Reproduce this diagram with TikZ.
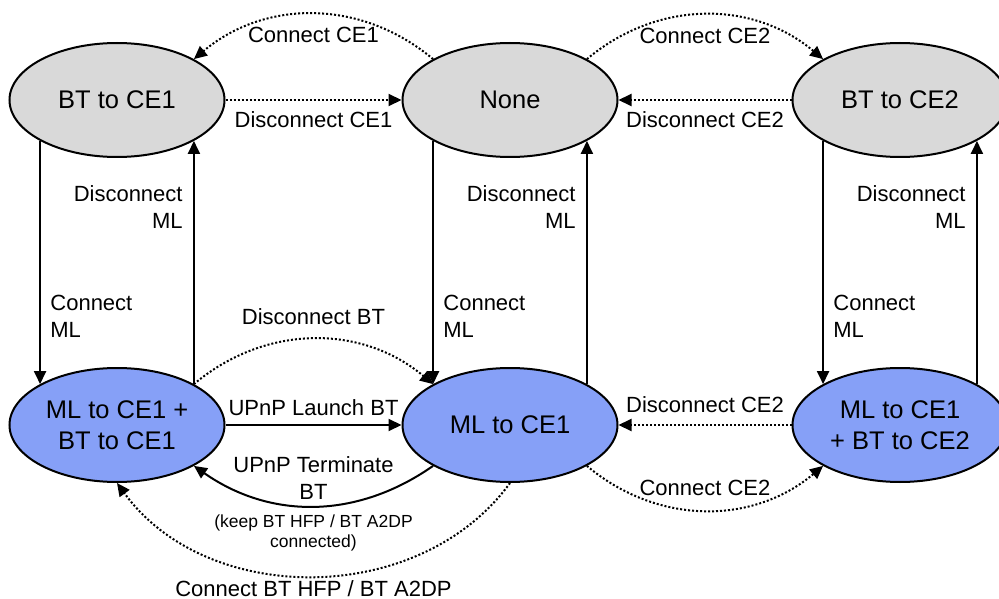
\documentclass[tikz,border=0pt]{standalone}
\usepackage{fontspec}
\setmainfont{Liberation Sans}
\usetikzlibrary{shapes.geometric,arrows.meta}
\definecolor{stategray}{RGB}{217,217,217}
\definecolor{stateblue}{RGB}{134,160,247}

\begin{document}
\begin{tikzpicture}[x=1pt,y=-1pt,
    state/.style={draw,ellipse,line width=2pt,inner sep=0pt,minimum width=215pt,minimum height=114pt,align=center,font=\fontsize{25.5}{31}\selectfont},
    idle/.style={state,fill=stategray},
    mlstate/.style={state,fill=stateblue},
    trans/.style={line width=2pt,-{Triangle[length=13pt,width=12pt]}},
    opt/.style={trans,dash pattern=on 2pt off 2pt},
    lbl/.style={font=\fontsize{22}{27}\selectfont,align=center},
    note/.style={font=\fontsize{17.5}{20}\selectfont,align=center}]
    \useasboundingbox (0,0) rectangle (999,599);
    % states
    \node[idle] (bt1) at (117,100) {BT to CE1};
    \node[idle] (none) at (510,100) {None};
    \node[idle] (bt2) at (900,100) {BT to CE2};
    \node[mlstate] (mlbt1) at (117,425) {ML to CE1 +\\BT to CE1};
    \node[mlstate] (ml1) at (510,425) {ML to CE1};
    \node[mlstate] (mlbt2) at (900,425) {ML to CE1\\+ BT to CE2};
    % ML up and down
    \foreach \up/\down in {bt1/mlbt1,none/ml1,bt2/mlbt2} {
        \draw[trans] (\up.208) -- (\down.152) node[lbl,pos=.72,anchor=west,xshift=6pt,align=left] {Connect\\ML};
        \draw[trans] (\down.28) -- (\up.332) node[lbl,pos=.73,anchor=east,xshift=-7pt,align=right] {Disconnect\\ML};
    }
    % top row
    \draw[opt] (none.152) to[bend right=40] node[lbl,below,yshift=-9pt] {Connect CE1} (bt1.28);
    \draw[opt] (bt1.east) -- node[lbl,below,yshift=-7pt] {Disconnect CE1} (none.west);
    \draw[opt] (none.28) to[bend left=40] node[lbl,below,yshift=-9pt] {Connect CE2} (bt2.152);
    \draw[opt] (bt2.west) -- node[lbl,below,yshift=-7pt] {Disconnect CE2} (none.east);
    % bottom row
    \draw[opt] (mlbt1.28) to[bend left=40] node[lbl,above,yshift=10pt] {Disconnect BT} (ml1.152);
    \draw[trans] (mlbt1.east) -- node[lbl,above,yshift=5pt] {UPnP Launch BT} (ml1.west);
    \draw[trans] (ml1.208) to[bend left=35] node[lbl,above,yshift=2pt] {UPnP Terminate\\BT}
        node[note,below,yshift=-4pt] {(keep BT HFP / BT A2DP\\connected)} (mlbt1.332);
    \draw[opt] (ml1.south) to[bend left=54] node[lbl,below,yshift=0pt] {Connect BT HFP / BT A2DP} (mlbt1.south);
    \draw[opt] (mlbt2.west) -- node[lbl,above,yshift=8pt] {Disconnect CE2} (ml1.east);
    \draw[opt] (ml1.332) to[bend right=40] node[lbl,above,yshift=10pt] {Connect CE2} (mlbt2.208);
\end{tikzpicture}
\end{document}
